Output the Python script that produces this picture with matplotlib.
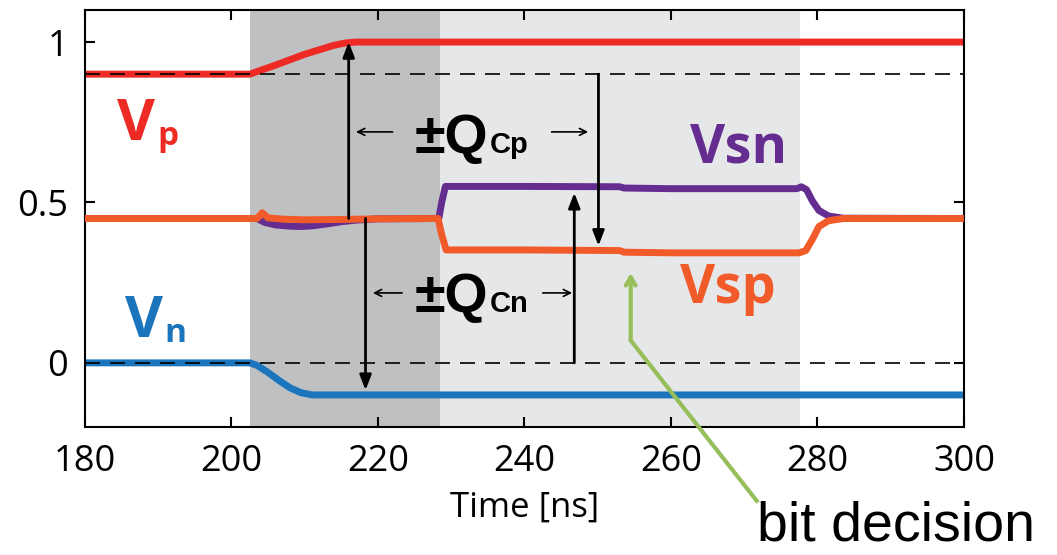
import numpy as np
import matplotlib
matplotlib.use("Agg")
import matplotlib.pyplot as plt

# traces (time in ns, voltage normalised)
t_vp = [180, 202.5, 204, 206, 208, 210, 212, 214, 215.5, 217, 230, 300]
vp = [0.9, 0.9, 0.912, 0.928, 0.945, 0.962, 0.976, 0.99, 0.997, 1.0, 1.0, 1.0]

t_vn = [180, 202.5, 203.5, 205, 206.5, 208, 209.5, 211, 213, 300]
vn = [0.0, 0.0, -0.008, -0.03, -0.055, -0.078, -0.093, -0.1, -0.1, -0.1]

t_vsn = [180, 203.5, 204.5, 206, 208, 209.5, 211, 213, 215, 217, 220, 228.3, 228.7,
         229.2, 240, 253, 253.6, 260, 277.2, 277.8, 278.5, 279.3, 280.2, 281.5, 283.5, 300]
vsn = [0.45, 0.45, 0.438, 0.43, 0.426, 0.425, 0.427, 0.433, 0.44, 0.445, 0.449, 0.45, 0.5,
       0.55, 0.55, 0.549, 0.545, 0.543, 0.543, 0.549, 0.54, 0.505, 0.475, 0.458, 0.451, 0.45]

t_vsp = [180, 203.5, 204.2, 205, 207, 210, 215, 220, 228.2, 228.7, 229.3, 240, 253, 253.6,
         260, 277.5, 278.4, 279.3, 280.2, 281.5, 283.5, 300]
vsp = [0.45, 0.45, 0.468, 0.452, 0.448, 0.446, 0.447, 0.449, 0.45, 0.4, 0.352, 0.352, 0.35,
       0.345, 0.343, 0.343, 0.35, 0.385, 0.425, 0.443, 0.45, 0.45]

# phases
phase1 = (202.5, 228.5)
phase2 = (228.5, 277.6)

xticks = [180, 200, 220, 240, 260, 280, 300]
yticks = [0, 0.5, 1]
ytick_labels = ["0", "0.5", "1"]

RED = "#ee2a24"
ORANGE = "#f15a29"
PURPLE = "#662d91"
BLUE = "#1b75bc"
GREEN = "#96be5a"

plt.rcParams["font.family"] = ["Open Sans", "DejaVu Sans"]

fig = plt.figure(figsize=(10.57, 5.55), dpi=100)
ax = fig.add_axes([0.0804, 0.2306, 0.912 - 0.0804, 0.982 - 0.2306])

ax.axvspan(*phase1, color="#bfc0c2", lw=0, zorder=0)
ax.axvspan(*phase2, color="#e6e7e8", lw=0, zorder=0)

ax.plot(t_vp, vp, color=RED, lw=5, solid_capstyle="butt", zorder=2)
ax.plot(t_vn, vn, color=BLUE, lw=5, solid_capstyle="butt", zorder=2)
ax.plot(t_vsn, vsn, color=PURPLE, lw=5, solid_capstyle="butt", zorder=2)
ax.plot(t_vsp, vsp, color=ORANGE, lw=5, solid_capstyle="butt", zorder=3)

ax.axhline(0.9, color="black", lw=1.2, dashes=(9, 6), zorder=4)
ax.axhline(0.0, color="black", lw=1.2, dashes=(9, 6), zorder=4)

# charge arrows
big = dict(arrowstyle="-|>,head_length=0.9,head_width=0.35", color="black", lw=2,
           shrinkA=0, shrinkB=0)
ax.annotate("", xy=(216.0, 1.0), xytext=(216.0, 0.45), arrowprops=big, zorder=5)
ax.annotate("", xy=(218.3, -0.085), xytext=(218.3, 0.45), arrowprops=big, zorder=5)
ax.annotate("", xy=(246.8, 0.53), xytext=(246.8, 0.0), arrowprops=big, zorder=5)
ax.annotate("", xy=(250.1, 0.365), xytext=(250.1, 0.9), arrowprops=big, zorder=5)

small = dict(arrowstyle="->,head_length=0.5,head_width=0.25", color="black", lw=1.2,
             shrinkA=0, shrinkB=0)
ax.annotate("", xy=(217.0, 0.72), xytext=(222.0, 0.72), arrowprops=small)
ax.annotate("", xy=(248.7, 0.72), xytext=(243.7, 0.72), arrowprops=small)
ax.annotate("", xy=(219.3, 0.218), xytext=(223.3, 0.218), arrowprops=small)
ax.annotate("", xy=(246.5, 0.218), xytext=(242.5, 0.218), arrowprops=small)

bold_arial = dict(family="Liberation Sans", fontweight="bold")
ax.text(235.0, 0.654, "\u00b1Q", fontsize=40, ha="right", va="baseline", **bold_arial)
ax.text(235.3, 0.654, "Cp", fontsize=21, ha="left", va="baseline", **bold_arial)
ax.text(235.0, 0.159, "\u00b1Q", fontsize=40, ha="right", va="baseline", **bold_arial)
ax.text(235.3, 0.159, "Cn", fontsize=21, ha="left", va="baseline", **bold_arial)

# signal names
ax.text(184.4, 0.695, "V", fontsize=42, fontweight="bold", color=RED, va="baseline")
ax.text(189.9, 0.68, "p", fontsize=24, fontweight="bold", color=RED, va="baseline")
ax.text(185.4, 0.081, "V", fontsize=42, fontweight="bold", color=BLUE, va="baseline")
ax.text(190.9, 0.066, "n", fontsize=24, fontweight="bold", color=BLUE, va="baseline")
ax.text(262.6, 0.626, "Vsn", fontsize=39, fontweight="bold", color=PURPLE,
        va="baseline")
ax.text(261.2, 0.187, "Vsp", fontsize=39, fontweight="bold", color=ORANGE,
        va="baseline")

# bit decision pointer
ax.annotate("", xy=(254.5, 0.28), xytext=(254.5, 0.07),
            arrowprops=dict(arrowstyle="->,head_length=0.6,head_width=0.35",
                            color=GREEN, lw=3, shrinkA=0, shrinkB=0))
ax.plot([254.5, 271.7], [0.07, -0.43], color=GREEN, lw=3, clip_on=False, zorder=6)
fig.text(0.979, 0.004, "bit decision", fontsize=40, family="Liberation Sans",
         ha="right", va="bottom")

ax.set_xlim(180, 300)
ax.set_ylim(-0.2, 1.1)
ax.set_xticks(xticks)
ax.set_yticks(yticks)
ax.set_yticklabels(ytick_labels)
ax.tick_params(direction="in", length=7, width=1.5, top=True, right=True,
               labelsize=26)
ax.tick_params(axis="x", pad=12)
ax.tick_params(axis="y", pad=12)
for s in ax.spines.values():
    s.set_linewidth(1.5)
ax.set_xlabel("Time [ns]", fontsize=25, labelpad=8)

fig.savefig("out.png", dpi=100)
